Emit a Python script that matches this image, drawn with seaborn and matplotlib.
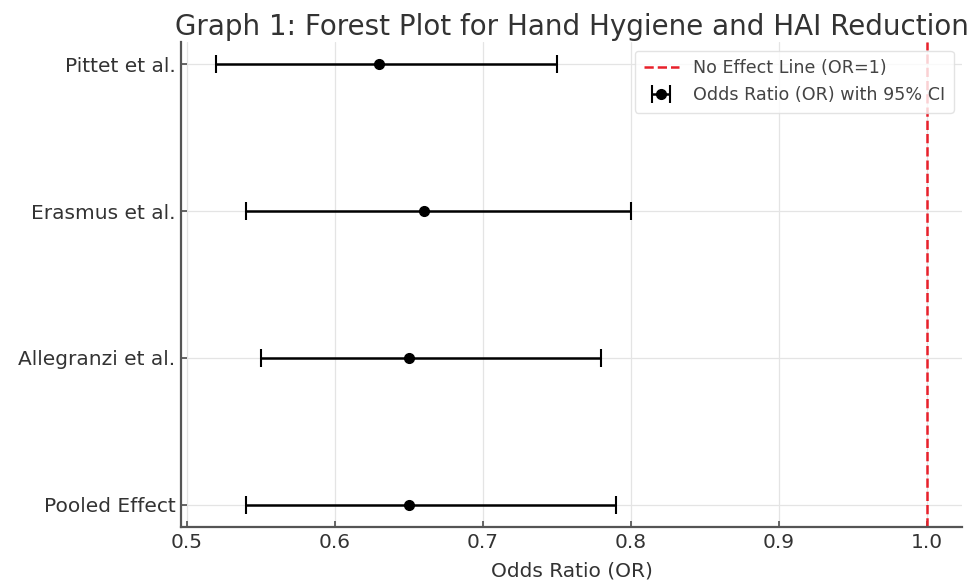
import numpy as np
import matplotlib
matplotlib.use("Agg")
import matplotlib.pyplot as plt
import seaborn as sns

# datos (de arriba hacia abajo)
estudios = ["Pittet et al.", "Erasmus et al.", "Allegranzi et al.", "Pooled Effect"]
odds_ratio = [0.63, 0.66, 0.65, 0.65]
ic_inferior = [0.52, 0.54, 0.55, 0.54]
ic_superior = [0.75, 0.80, 0.78, 0.79]
x_ticks = [0.5, 0.6, 0.7, 0.8, 0.9, 1.0]

sns.set_theme(style="whitegrid")
plt.rcParams['font.family'] = ['DejaVu Sans']

fig = plt.figure(figsize=(9.73, 5.83), dpi=100)
ax = fig.add_axes([0.186, 0.096, 0.803, 0.832])

or_arr = np.array(odds_ratio)
err = [or_arr - np.array(ic_inferior), np.array(ic_superior) - or_arr]
pos = np.arange(len(estudios))[::-1]  # Pittet arriba

ax.axvline(1.0, color='#e8202a', linestyle='--', linewidth=1.8, label='No Effect Line (OR=1)')
ax.errorbar(or_arr, pos, xerr=err, fmt='o', color='black', ecolor='black',
            markersize=7, elinewidth=1.8, capsize=6.5, capthick=1.5,
            label='Odds Ratio (OR) with 95% CI')

ax.set_yticks(pos)
ax.set_yticklabels(estudios)
ax.set_xticks(x_ticks)
ax.set_xticklabels([f"{t:.1f}" for t in x_ticks])
ax.margins(x=0.05, y=0.05)

ax.set_title("Graph 1: Forest Plot for Hand Hygiene and HAI Reduction", fontsize=20,
             color='#333333', pad=5)
ax.set_xlabel("Odds Ratio (OR)", fontsize=14.5, color='#333333', labelpad=7)
ax.tick_params(axis='both', labelsize=14.5, labelcolor='#333333', direction='in',
               length=4, color='#555555', bottom=True, left=True, pad=4)

ax.grid(True, color='#e4e4e4', linewidth=0.9)
for lado in ['top', 'right']:
    ax.spines[lado].set_visible(False)
for lado in ['left', 'bottom']:
    ax.spines[lado].set_color('#555555')
    ax.spines[lado].set_linewidth(1.6)

ley = ax.legend(loc='upper right', fontsize=12.6, frameon=True, borderpad=0.5,
                framealpha=0.8)
ley.get_frame().set_edgecolor('#dddddd')
for t in ley.get_texts():
    t.set_color('#444444')

fig.savefig('out.png', dpi=100)
